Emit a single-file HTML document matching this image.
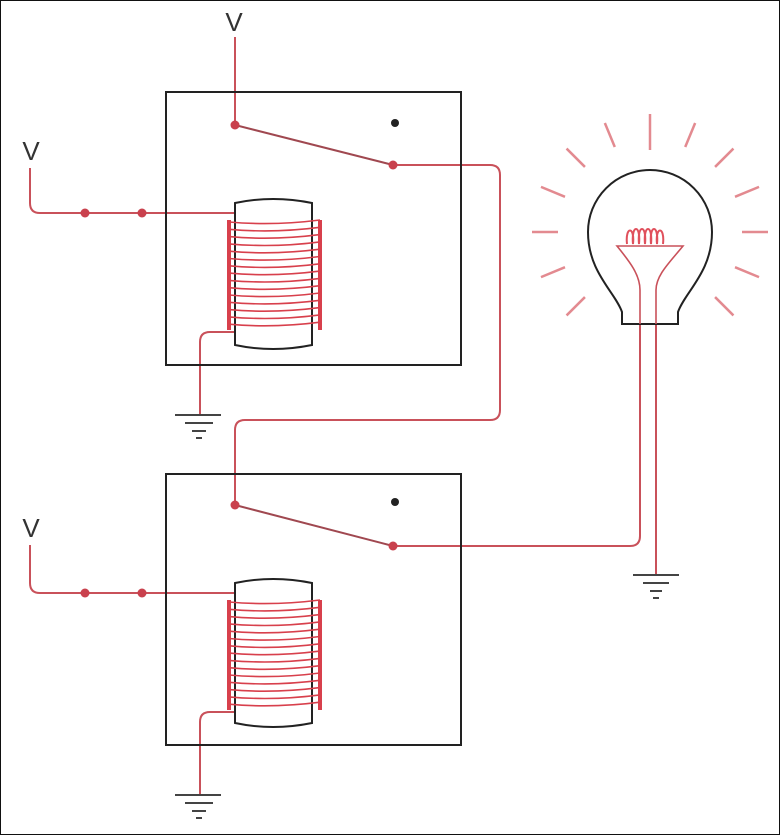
<!DOCTYPE html>
<html><head><meta charset="utf-8"><style>
html,body{margin:0;padding:0;background:#fff;}
svg{display:block;}
text{font-family:"Liberation Sans",sans-serif;}
</style></head><body>
<svg width="780" height="835" viewBox="0 0 780 835">
<rect x="0.5" y="0.5" width="779" height="834" fill="#fff" stroke="#111" stroke-width="1"/>
<g id="rays" stroke="#e38a90" stroke-width="2.5"></g>
<g fill="none" stroke="#c9515a" stroke-width="2">
  <path d="M235,37 V125"/>
  <path d="M235,125 L393,165" stroke="#a04850"/>
  <path d="M393,165 H490 Q500,165 500,175 V410 Q500,420 490,420 H245 Q235,420 235,430 V505"/>
  <path d="M235,505 L393,546" stroke="#a04850"/>
  <path d="M393,546 H630 Q640,546 640,536 V290"/>
  <path d="M656,290 V575"/>
  <path d="M30,168 V203 Q30,213 40,213 H235"/>
  <path d="M235,332 H210 Q200,332 200,342 V415"/>
  <path d="M30,545 V583 Q30,593 40,593 H235"/>
  <path d="M235,712 H210 Q200,712 200,722 V795"/>
</g>
<g fill="none" stroke="#222" stroke-width="2">
  <rect x="166" y="92" width="295" height="273"/>
  <rect x="166" y="474" width="295" height="271"/>
</g>
<g fill="#222" stroke="none">
  <circle cx="395" cy="123" r="4"/>
  <circle cx="395" cy="502" r="4"/>
</g>
<g fill="#c9414d">
  <circle cx="235" cy="125" r="4.5"/><circle cx="393" cy="165" r="4.5"/>
  <circle cx="235" cy="505" r="4.5"/><circle cx="393" cy="546" r="4.5"/>
  <circle cx="85" cy="213" r="4.5"/><circle cx="142" cy="213" r="4.5"/>
  <circle cx="85" cy="593" r="4.5"/><circle cx="142" cy="593" r="4.5"/>
</g>
<g id="coils"></g>
<g stroke="#444" stroke-width="2">
  <path d="M175,415 H221 M185,423 H213 M192,431 H206 M196,438 H202"/>
  <path d="M175,795 H221 M185,803 H213 M192,811 H206 M196,818 H202"/>
  <path d="M633,575 H679 M643,583 H669 M650,591 H662 M653,598 H659"/>
</g>
<g>
  <path d="M622,324 V312 C615,292 588,272 588,232 A62,62 0 1 1 712,232 C712,272 685,292 678,312 V324 Z" fill="#fff" stroke="#222" stroke-width="2"/>
  <path d="M640,324 V290 C640,275 630,262 617,246 H683 C670,262 656,275 656,290 V324" fill="none" stroke="#c9515a" stroke-width="1.6"/>
  <path d="M627,244 c-2,-18 8,-18 6,0 c-2,-20 8,-20 6,0 c-2,-20 8,-20 6,0 c-2,-20 8,-20 6,0 c-2,-20 8,-20 6,0 c-2,-18 8,-18 6,0" fill="none" stroke="#e0505c" stroke-width="2"/>
</g>
<g font-size="26" fill="#333" text-anchor="middle">
  <text x="234" y="31">V</text>
  <text x="31" y="160">V</text>
  <text x="31" y="537">V</text>
</g>
<script>
const NS='http://www.w3.org/2000/svg';
const rays=document.getElementById('rays');
[-180,-157.5,-135,-112.5,-90,-67.5,-45,-22.5,0,22.5,45,157.5,135].forEach(a=>{
  const r=a*Math.PI/180, l=document.createElementNS(NS,'line');
  const r1=a===-90?82:92, r2=118;
  l.setAttribute('x1',650+r1*Math.cos(r));l.setAttribute('y1',232+r1*Math.sin(r));
  l.setAttribute('x2',650+r2*Math.cos(r));l.setAttribute('y2',232+r2*Math.sin(r));
  
  
  rays.appendChild(l);
});
const coils=document.getElementById('coils');
[[198,350],[578,728]].forEach(([t,b],i)=>{
  const g=document.createElementNS(NS,'g');
  
  
  const body=document.createElementNS(NS,'path');
  body.setAttribute('d',`M235,${t+5} Q273,${t-3} 312,${t+5} V${b-5} Q273,${b+3} 235,${b-5} Z`);
  body.setAttribute('fill','#fff');body.setAttribute('stroke','#222');body.setAttribute('stroke-width','2');
  g.appendChild(body);
  for(let k=0;k<15;k++){
    const y=t+24+k*7.3, p=document.createElementNS(NS,'path');
    p.setAttribute('d',`M229,${y} Q273,${y+4} 320,${y-2}`);
    p.setAttribute('fill','none');p.setAttribute('stroke','#d8404c');p.setAttribute('stroke-width','1.6');
    g.appendChild(p);
  }
  const s=document.createElementNS(NS,'path');
  s.setAttribute('d',`M229,${t+22} V${t+132} M320,${t+22} V${t+132}`);
  s.setAttribute('stroke','#d8404c');s.setAttribute('stroke-width','4');
  g.appendChild(s);
  coils.appendChild(g);
});
</script>
</svg>
</body></html>
